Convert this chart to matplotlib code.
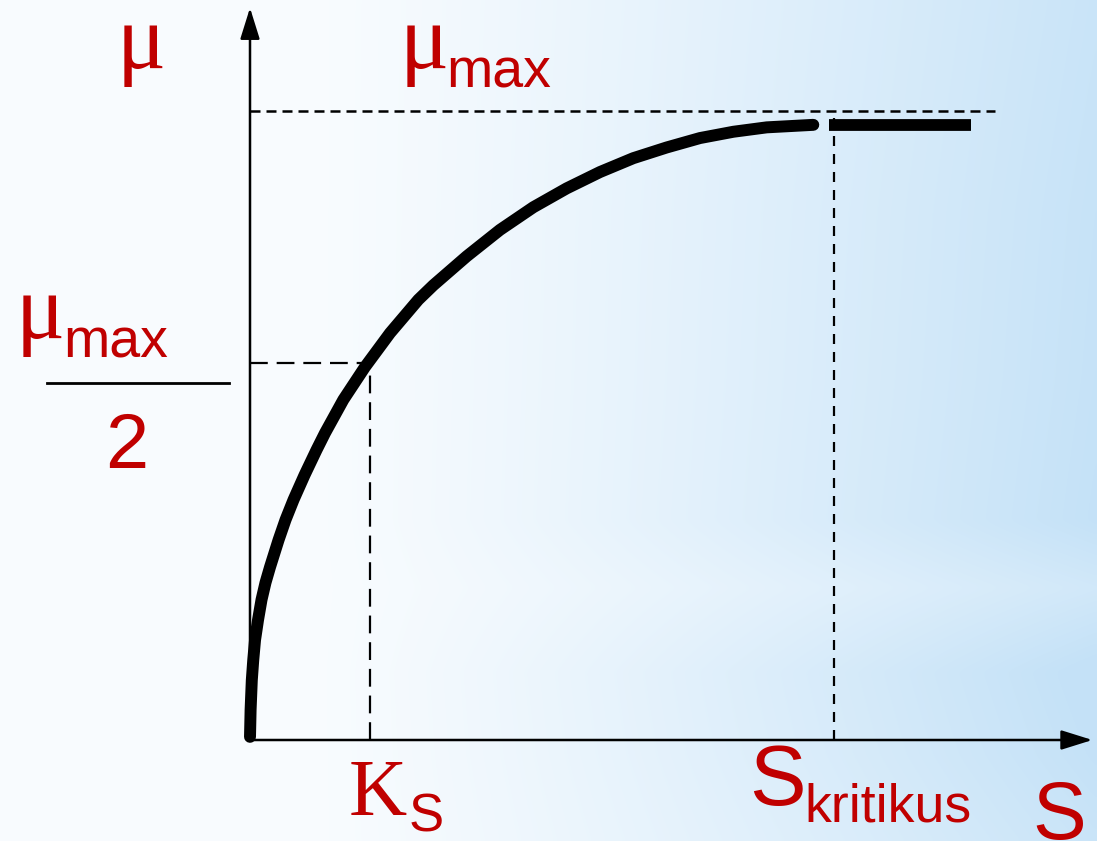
import numpy as np
import matplotlib
matplotlib.use("Agg")
import matplotlib.pyplot as plt
from matplotlib.lines import Line2D

# ---------------- data ----------------
# S in units of K_S, mu in units of mu_max
S_curve = [0.000, 0.005, 0.015, 0.027, 0.042, 0.067, 0.096, 0.129, 0.167, 0.238,
           0.296, 0.363, 0.454, 0.554, 0.625, 0.778, 0.958, 1.167, 1.403, 1.528,
           1.806, 2.083, 2.361, 2.639, 2.917, 3.194, 3.472, 3.750, 4.028, 4.306,
           4.694]
mu_curve = [0.005, 0.048, 0.095, 0.127, 0.159, 0.191, 0.223, 0.250, 0.275, 0.318,
            0.350, 0.382, 0.421, 0.461, 0.488, 0.541, 0.593, 0.647, 0.700, 0.723,
            0.769, 0.811, 0.847, 0.877, 0.903, 0.925, 0.942, 0.957, 0.967, 0.974,
            0.978]
S_plateau = [4.825, 6.008]
mu_plateau = [0.978, 0.978]

mu_max = 1.0
mu_half = 0.6          # level where the K_S guide line is drawn
Ks = 1.0
S_kritikus = 4.867
mu_max_line_end = 6.21
S_axis_end = 7.02
mu_axis_end = 1.164

RED = "#C00000"
W, H = 1097, 841

fig = plt.figure(figsize=(W / 100, H / 100), dpi=100)

# ---------------- background gradient ----------------
bg = fig.add_axes([0, 0, 1, 1])
ny, nx = 200, 300
xx = np.linspace(0, 1, nx)[None, :]
yy = np.linspace(0, 1, ny)[:, None]          # 0 = top
tx = np.clip((xx - 0.28) / 0.72, 0, 1) ** 1.2
band = np.interp(yy, [0.0, 0.25, 0.45, 0.62, 0.70, 0.80, 0.90, 1.0],
                     [0.9, 0.95, 0.97, 1.0, 0.75, 1.05, 1.0, 0.9])
t = np.clip(tx * band, 0, 1)
white = np.array([0.975, 0.988, 0.998])
blue = np.array([0.77, 0.885, 0.97])
img = white[None, None, :] * (1 - t[..., None]) + blue[None, None, :] * t[..., None]
bg.imshow(img, aspect="auto", extent=[0, 1, 0, 1], interpolation="bicubic")
bg.axis("off")

# ---------------- main axes ----------------
ax = fig.add_axes([0, 0, 1, 1])
ax.patch.set_alpha(0)
ax.set_xlim(-250 / 120, (W - 250) / 120)
ax.set_ylim(-(H - 740) / 629, 740 / 629)
ax.axis("off")

# axes with arrows
arrow_kw = dict(arrowstyle="-|>,head_length=0.8,head_width=0.25", lw=1.8,
                color="black", shrinkA=0, shrinkB=0, mutation_scale=24)
ax.annotate("", xy=(S_axis_end, 0), xytext=(0, 0), arrowprops=arrow_kw)
ax.annotate("", xy=(0, mu_axis_end), xytext=(0, 0), arrowprops=arrow_kw)

# dashed guide lines
ax.plot([0, mu_max_line_end], [mu_max, mu_max], color="black", lw=1.8,
        ls=(0, (4, 2.4)))
ax.plot([S_kritikus, S_kritikus], [0, mu_max], color="black", lw=1.6,
        ls=(0, (4.5, 3.6)))
ax.plot([0, Ks], [mu_half, mu_half], color="black", lw=1.6, ls=(0, (8, 4)))
ax.plot([Ks, Ks], [0, mu_half], color="black", lw=1.6, ls=(0, (8, 4)))

# curve and plateau
ax.plot(S_curve, mu_curve, color="black", lw=8.6, solid_capstyle="round",
        solid_joinstyle="round")
ax.plot(S_plateau, mu_plateau, color="black", lw=8.5, solid_capstyle="butt")

# ---------------- labels ----------------
def fx(x):
    return x / W

def fy(y):
    return 1 - y / H

serif = ["Liberation Serif", "DejaVu Serif"]
sans = ["Liberation Sans", "DejaVu Sans"]

# mu axis label
fig.text(fx(141), fy(68), "\u03bc", color=RED, fontsize=66, family=serif,
         ha="center", va="baseline")
# mu_max at top
fig.text(fx(424), fy(68), "\u03bc", color=RED, fontsize=66, family=serif,
         ha="center", va="baseline")
fig.text(fx(446), fy(87), "max", color=RED, fontsize=40, family=sans,
         ha="left", va="baseline")
# mu_max / 2 at left
fig.text(fx(40), fy(338), "\u03bc", color=RED, fontsize=66, family=serif,
         ha="center", va="baseline")
fig.text(fx(63), fy(358), "max", color=RED, fontsize=40, family=sans,
         ha="left", va="baseline")
fig.add_artist(Line2D([fx(47), fx(229)], [fy(383), fy(383)], color="black",
                      lw=2.0, transform=fig.transFigure))
fig.text(fx(127), fy(468), "2", color=RED, fontsize=56, family=sans,
         ha="center", va="baseline")
# K_S
fig.text(fx(378), fy(815), "K", color=RED, fontsize=58, family=serif,
         ha="center", va="baseline")
fig.text(fx(426), fy(831), "S", color=RED, fontsize=38, family=sans,
         ha="center", va="baseline")
# S_kritikus
fig.text(fx(777), fy(805), "S", color=RED, fontsize=61, family=sans,
         ha="center", va="baseline")
fig.text(fx(804), fy(822), "kritikus", color=RED, fontsize=38.5, family=sans,
         ha="left", va="baseline")
# S axis label
fig.text(fx(1059), fy(839), "S", color=RED, fontsize=58, family=sans,
         ha="center", va="baseline")

fig.savefig("out.png", dpi=100)
